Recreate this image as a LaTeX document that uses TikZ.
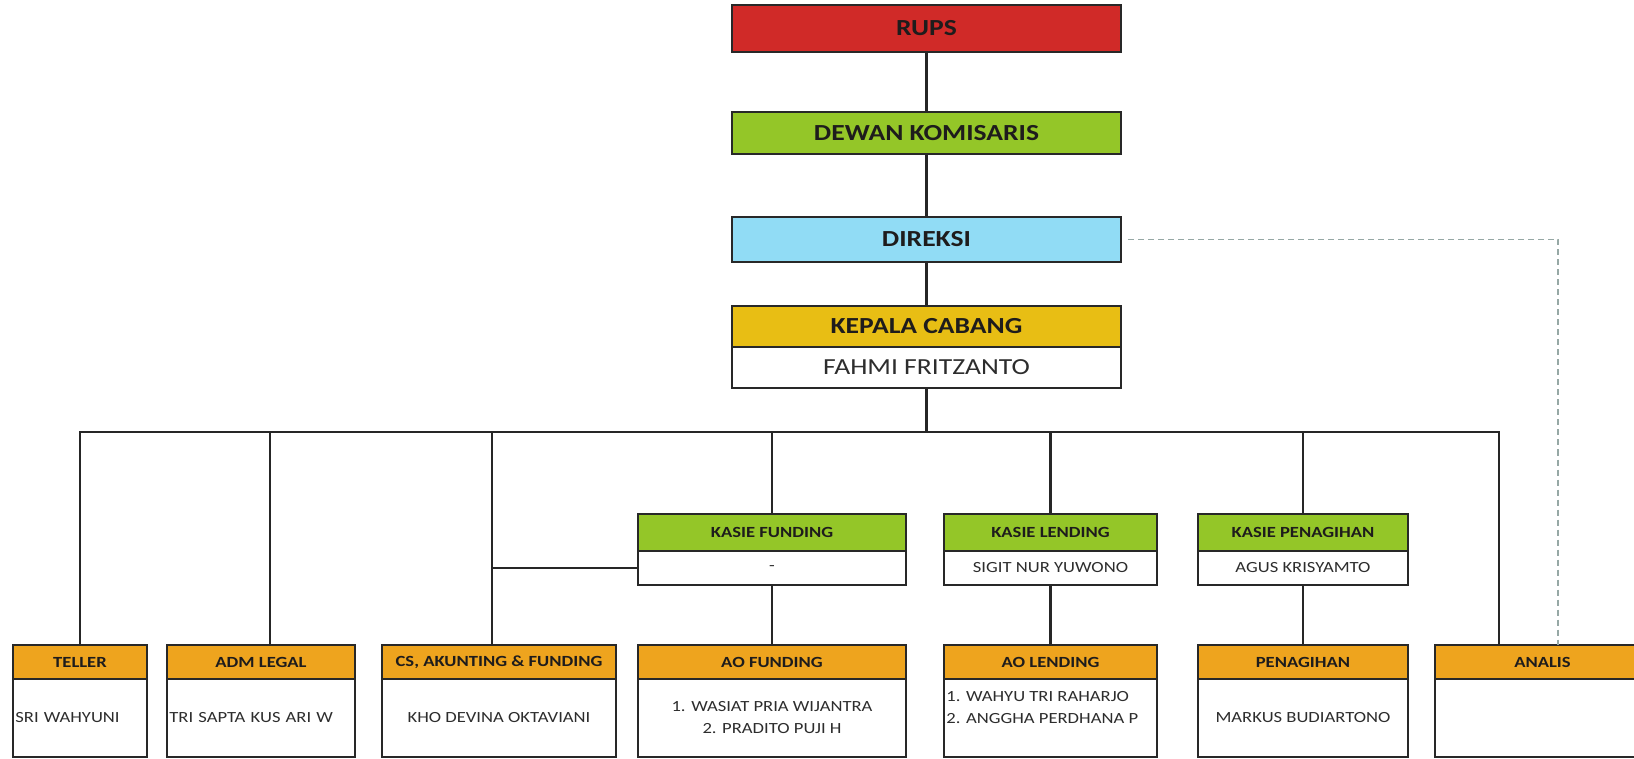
\documentclass[tikz,border=0pt]{standalone}
\usepackage{fontspec}
\setmainfont{Carlito}[FakeStretch=1.2]
\usetikzlibrary{calc}
\definecolor{rupsred}{RGB}{208,42,40}
\definecolor{lvlgreen}{RGB}{148,198,40}
\definecolor{dirblue}{RGB}{145,220,245}
\definecolor{kcgold}{RGB}{232,190,20}
\definecolor{hdrorange}{RGB}{238,164,30}
\definecolor{boxline}{RGB}{40,40,40}
\definecolor{txtdark}{RGB}{30,28,28}
\definecolor{nametxt}{RGB}{45,45,45}
\definecolor{dashgray}{RGB}{150,168,165}
\newcommand\fntbig{\fontsize{11.5}{13}\selectfont}
\newcommand\fntsmall{\fontsize{7.75}{11}\selectfont}
\begin{document}
\begin{tikzpicture}[x=0.5pt, y=-0.5pt,
  bx/.style={rectangle, draw=boxline, line width=1pt, inner sep=1pt, text=txtdark},
  topbox/.style={bx, minimum width=194.5pt, font=\fntbig\bfseries},
  hdr/.style={bx, fill=hdrorange, minimum height=17pt, font=\fntsmall\bfseries},
  kasie/.style={bx, fill=lvlgreen, minimum height=18.5pt, font=\fntsmall\bfseries},
  kname/.style={bx, fill=white, minimum height=17pt, font=\fntsmall, text=nametxt},
  bname/.style={bx, fill=white, minimum height=39pt, font=\fntsmall, text=nametxt},
  lname/.style={bname, align=left, inner xsep=1.2pt},
  conn/.style={draw=black!85, line width=1.3pt},
  dashconn/.style={draw=dashgray, line width=0.7pt, dash pattern=on 3pt off 2pt}]
\useasboundingbox (0,0) rectangle (1634,759);
\clip (0,0) rectangle (1634,759);
\fill[white] (0,0) rectangle (1634,759);

% top chain
\node[topbox, fill=rupsred, minimum height=23.5pt] (rups) at (926.5,28.5) {RUPS};
\node[topbox, fill=lvlgreen, minimum height=21pt] (dewan) at (926.5,133) {DEWAN KOMISARIS};
\node[topbox, fill=dirblue, minimum height=22.5pt] (direksi) at (926.5,239.5) {DIREKSI};
\node[topbox, fill=kcgold, minimum height=20.5pt] (kch) at (926.5,326.5) {KEPALA CABANG};
\node[topbox, fill=white, minimum height=20.5pt, font=\fntbig, text=nametxt] (kcn) at (926.5,367.5) {FAHMI FRITZANTO};

% kasie boxes
\node[kasie, minimum width=134pt] (kfh) at (772,532.5) {KASIE FUNDING};
\node[kname, minimum width=134pt] (kfn) at (772,568) {-};
\node[kasie, minimum width=106.5pt] (klh) at (1050.5,532.5) {KASIE LENDING};
\node[kname, minimum width=106.5pt] (kln) at (1050.5,568) {SIGIT NUR YUWONO};
\node[kasie, minimum width=105pt] (kph) at (1303,532.5) {KASIE PENAGIHAN};
\node[kname, minimum width=105pt] (kpn) at (1303,568) {AGUS KRISYAMTO};

% bottom boxes
\node[hdr, minimum width=67pt] (teh) at (80,662) {TELLER};
\node[lname, text width=64.6pt] (ten) at (80,718) {SRI WAHYUNI};
\node[hdr, minimum width=94pt] (admh) at (261,662) {ADM LEGAL};
\node[lname, text width=91.6pt] (admn) at (261,718) {TRI SAPTA KUS ARI W};
\node[hdr, minimum width=117pt] (csh) at (499,662) {CS, AKUNTING \& FUNDING};
\node[bname, minimum width=117pt] (csn) at (499,718) {KHO DEVINA OKTAVIANI};
\node[hdr, minimum width=134pt] (aofh) at (772,662) {AO FUNDING};
\node[bname, minimum width=134pt, align=center] (aofn) at (772,718) {1. WASIAT PRIA WIJANTRA\\2. PRADITO PUJI H};
\node[hdr, minimum width=106.5pt] (aolh) at (1050.5,662) {AO LENDING};
\node[bname, minimum width=106.5pt] (aoln) at (1050.5,718) {};
\node[font=\fntsmall, text=nametxt, align=left, anchor=west, inner sep=0pt] (aolt)
  at ([xshift=1.5pt,yshift=5pt]aoln.west) {1. WAHYU TRI RAHARJO\\2. ANGGHA PERDHANA P};
\node[hdr, minimum width=105pt] (penh) at (1303,662) {PENAGIHAN};
\node[bname, minimum width=105pt] (penn) at (1303,718) {MARKUS BUDIARTONO};
\node[hdr, minimum width=107.5pt] (anah) at (1542.5,662) {ANALIS};
\node[bname, minimum width=107.5pt] (anan) at (1542.5,718) {};

% helper coordinates
\coordinate (bus) at (926.5,432);
\coordinate (anatop) at (1499,645);
\coordinate (admx) at (270,645);
\coordinate (csx) at (492,645);
\coordinate (dashx) at (1558,645);

% connectors
\draw[conn] (rups) -- (dewan);
\draw[conn] (dewan) -- (direksi);
\draw[conn] (direksi) -- (kch);
\draw[conn] (kcn.south) -- (bus);
\draw[conn] (teh.north) -- (teh.north |- bus) -- (anatop |- bus) -- (anatop);
\draw[conn] (admx) -- (admx |- bus);
\draw[conn] (csx) -- (csx |- bus);
\draw[conn] (kfn.west) -- (kfn.west -| csx);
\draw[conn] (kfh.north) -- (kfh.north |- bus);
\draw[conn] (klh.north) -- (klh.north |- bus);
\draw[conn] (kph.north) -- (kph.north |- bus);
\draw[conn] (kfn.south) -- (aofh.north);
\draw[conn] (kln.south) -- (aolh.north);
\draw[conn] (kpn.south) -- (penh.north);
\draw[dashconn] ([xshift=3pt]direksi.east) -| (dashx);
\end{tikzpicture}
\end{document}
